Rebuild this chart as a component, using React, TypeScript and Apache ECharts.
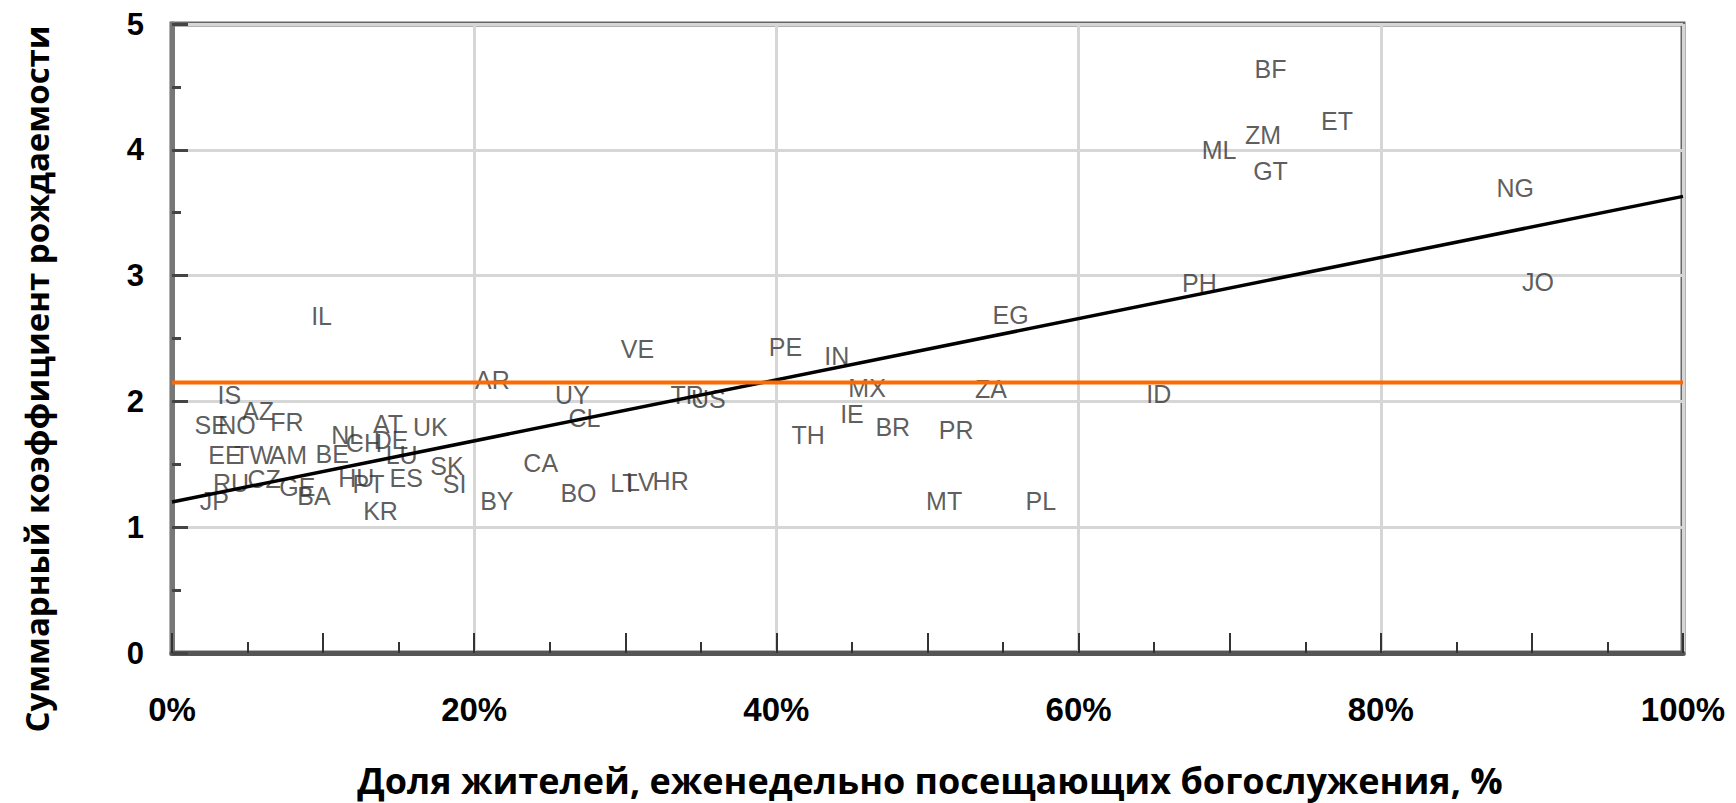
import React, { useEffect, useRef } from "react";
import * as echarts from "echarts";

const codes = [
  "IL", "IS", "SE", "NO", "AZ", "FR", "EE", "TW", "AM", "RU", "CZ", "GE", "BA", "JP",
  "NL", "BE", "CH", "AT", "DE", "UK", "LU", "HU", "PT", "ES", "SK", "SI", "KR",
  "BY", "CA", "BO", "LT", "LV", "HR", "AR", "UY", "CL", "VE", "TR", "US",
  "PE", "IN", "MX", "IE", "BR", "TH", "PR", "ZA", "MT", "PL", "ID", "EG",
  "PH", "JO", "NG", "ML", "GT", "ZM", "ET", "BF",
];
const attendance = [
  9.9, 3.8, 2.6, 4.3, 5.7, 7.6, 3.5, 5.4, 7.7, 3.9, 6.1, 8.3, 9.4, 2.8,
  11.6, 10.6, 12.7, 14.3, 14.5, 17.1, 15.2, 12.2, 13.0, 15.5, 18.2, 18.7, 13.8,
  21.5, 24.4, 26.9, 29.9, 31.0, 33.0, 21.2, 26.5, 27.3, 30.8, 34.1, 35.5,
  40.6, 44.0, 46.0, 45.0, 47.7, 42.1, 51.9, 54.2, 51.1, 57.5, 65.3, 55.5,
  68.0, 90.4, 88.9, 69.3, 72.7, 72.2, 77.1, 72.7,
];
const fertility = [
  2.68, 2.05, 1.81, 1.81, 1.92, 1.84, 1.57, 1.57, 1.57, 1.35, 1.38, 1.32, 1.25, 1.21,
  1.73, 1.58, 1.67, 1.82, 1.69, 1.80, 1.57, 1.39, 1.34, 1.39, 1.49, 1.34, 1.13,
  1.21, 1.51, 1.27, 1.35, 1.36, 1.37, 2.17, 2.05, 1.87, 2.42, 2.05, 2.02,
  2.43, 2.36, 2.11, 1.90, 1.80, 1.73, 1.77, 2.10, 1.21, 1.21, 2.06, 2.69,
  2.94, 2.95, 3.70, 4.00, 3.83, 4.12, 4.23, 4.64,
];
const trendLine = [[0, 1.2], [100, 3.63]];
const replacementLevel = 2.15;
const xTickLabels = ["0%", "20%", "40%", "60%", "80%", "100%"];
const yTickLabels = ["0", "1", "2", "3", "4", "5"];
const xTitle = "Доля жителей, еженедельно посещающих богослужения, %";
const yTitle = "Суммарный коэффициент рождаемости";

export default function App() {
  const ref = useRef<HTMLDivElement>(null);
  useEffect(() => {
    if (!ref.current) return;
    const chart = echarts.init(ref.current, null, { renderer: "svg" });
    const points = codes.map((c, i) => [attendance[i], fertility[i], c]);
    const gridL = 172, gridR = 53, gridT = 24, gridB = 150;
    const tickFont = { fontFamily: "Liberation Sans", fontWeight: "bold" as const, color: "#000" };
    chart.setOption({
      animation: false,
      backgroundColor: "#fff",
      grid: {
        left: gridL, right: gridR, top: gridT, bottom: gridB,
        show: true, borderColor: "#666", borderWidth: 5, backgroundColor: "transparent",
      },
      xAxis: [
        {
          type: "value", min: 0, max: 100, interval: 20, position: "bottom",
          axisLine: { show: true, onZero: false, lineStyle: { color: "#555", width: 5 } },
          axisTick: { show: false },
          splitLine: { show: true, lineStyle: { color: "#d6d6d6", width: 3 } },
          axisLabel: {
            ...tickFont, fontSize: 33, margin: 40,
            formatter: (v: number) => xTickLabels[Math.round(v / 20)] ?? "",
          },
        },
        {
          type: "value", min: 0, max: 100, interval: 10, position: "bottom",
          axisLine: { show: false, onZero: false },
          axisTick: { show: true, inside: true, length: 20, lineStyle: { color: "#333", width: 2 } },
          minorTick: { show: true, splitNumber: 2, length: 11, lineStyle: { color: "#333", width: 2 } },
          splitLine: { show: false },
          axisLabel: { show: false },
        },
      ],
      yAxis: {
        type: "value", min: 0, max: 5, interval: 1,
        axisLine: { show: true, onZero: false, lineStyle: { color: "#777", width: 5 } },
        axisTick: { show: true, inside: true, length: 16, lineStyle: { color: "#444", width: 3 } },
        minorTick: { show: true, splitNumber: 2, length: 9, lineStyle: { color: "#444", width: 3 } },
        splitLine: { show: true, lineStyle: { color: "#d6d6d6", width: 3 } },
        axisLabel: {
          ...tickFont, fontSize: 31, margin: 28,
          formatter: (v: number) => yTickLabels[Math.round(v)] ?? "",
        },
      },
      series: [
        {
          type: "scatter",
          z: 2,
          data: points,
          symbolSize: 1,
          itemStyle: { color: "rgba(0,0,0,0)" },
          label: {
            show: true,
            position: "inside",
            formatter: (p: any) => p.data[2],
            fontFamily: "Liberation Sans",
            fontSize: 25,
            color: "#333",
          },
        },
        {
          type: "line",
          z: 3,
          data: trendLine,
          symbol: "none",
          lineStyle: { color: "#000", width: 3.5 },
        },
        {
          type: "line",
          z: 4,
          data: [[0, replacementLevel], [100, replacementLevel]],
          symbol: "none",
          lineStyle: { color: "#ff6a00", width: 4 },
        },
      ],
      graphic: [
        {
          type: "text",
          x: 930, y: 780,
          style: {
            text: xTitle, fontFamily: "Open Sans", fontWeight: "bold", fontSize: 36,
            fill: "#000", align: "center", verticalAlign: "middle",
          },
        },
        {
          type: "text",
          x: 36, y: 379, rotation: Math.PI / 2,
          style: {
            text: yTitle, fontFamily: "Open Sans", fontWeight: "bold", fontSize: 33,
            fill: "#000", align: "center", verticalAlign: "middle",
          },
        },
      ],
    });
    return () => chart.dispose();
  }, []);
  return (
    <div ref={ref} style={{ position: "absolute", left: 0, top: 0, width: 1736, height: 803 }} />
  );
}
